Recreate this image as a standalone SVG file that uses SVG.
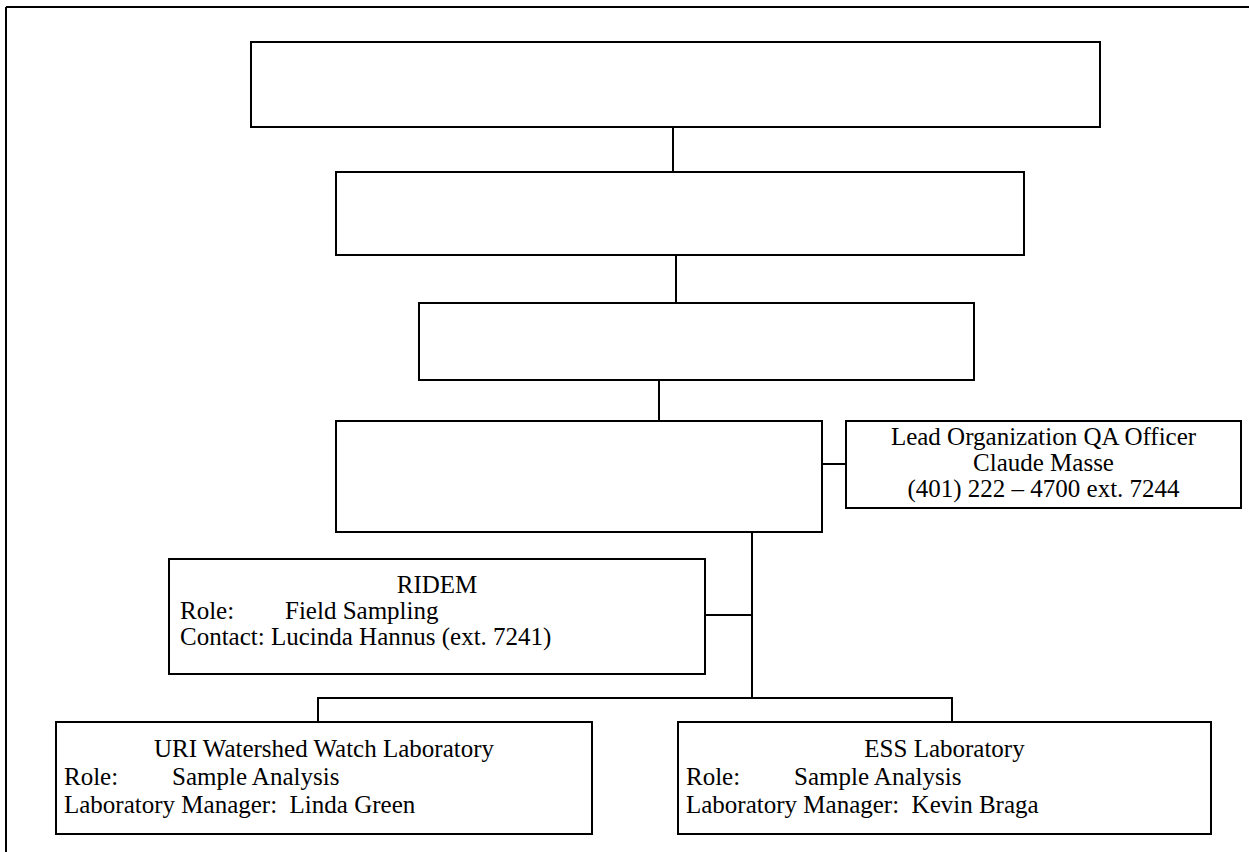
<svg xmlns="http://www.w3.org/2000/svg" width="1249" height="852" viewBox="0 0 1249 852">
<style>
.box{fill:#fff;stroke:#000;stroke-width:2}
.ln{stroke:#000;stroke-width:2;fill:none}
text{font-family:"Liberation Serif","Times New Roman",serif;font-size:25px;fill:#000}
.c{text-anchor:middle}
</style>
<rect x="0" y="0" width="1249" height="852" fill="#fff"/>
<g id="frame">
<path class="ln" d="M6,7 H1249 M6,7 V852"/>
</g>
<g id="connectors">
<path class="ln" d="M673,127 V172"/>
<path class="ln" d="M676,255 V303"/>
<path class="ln" d="M659,380 V421"/>
<path class="ln" d="M822,464 H846"/>
<path class="ln" d="M752,532 V698"/>
<path class="ln" d="M705,615 H752"/>
<path class="ln" d="M318,722 V698 H952 V722"/>
</g>
<g id="node1"><rect class="box" x="251" y="42" width="849" height="85"/></g>
<g id="node2"><rect class="box" x="336" y="172" width="688" height="83"/></g>
<g id="node3"><rect class="box" x="419" y="303" width="555" height="77"/></g>
<g id="node4"><rect class="box" x="336" y="421" width="486" height="111"/></g>
<g id="qa">
<rect class="box" x="846" y="421" width="395" height="87"/>
<text class="c" x="1043.5" y="445">Lead Organization QA Officer</text>
<text class="c" x="1043.5" y="471">Claude Masse</text>
<text class="c" x="1043.5" y="497">(401) 222 – 4700 ext. 7244</text>
</g>
<g id="ridem">
<rect class="box" x="169" y="559" width="536" height="115"/>
<text class="c" x="437" y="593">RIDEM</text>
<text x="180" y="619">Role:</text><text x="285" y="619">Field Sampling</text>
<text x="180" y="645">Contact: Lucinda Hannus (ext. 7241)</text>
</g>
<g id="uri">
<rect class="box" x="56" y="722" width="536" height="112"/>
<text class="c" x="324" y="757">URI Watershed Watch Laboratory</text>
<text x="64" y="785">Role:</text><text x="172" y="785">Sample Analysis</text>
<text x="64" y="813">Laboratory Manager:&#160; Linda Green</text>
</g>
<g id="ess">
<rect class="box" x="678" y="722" width="533" height="112"/>
<text class="c" x="944.5" y="757">ESS Laboratory</text>
<text x="686" y="785">Role:</text><text x="794" y="785">Sample Analysis</text>
<text x="686" y="813">Laboratory Manager:&#160; Kevin Braga</text>
</g>
</svg>
